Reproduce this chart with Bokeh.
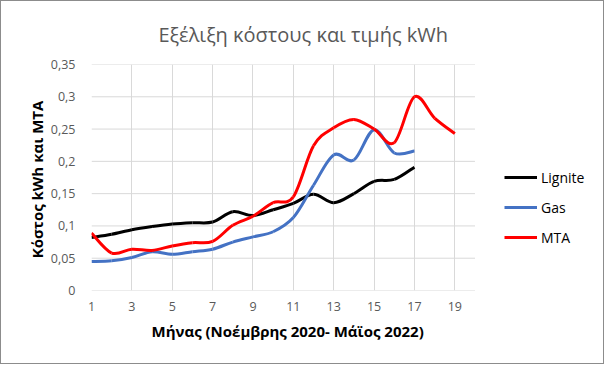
import numpy as np
from bokeh.plotting import figure
from bokeh.models import Range1d, FixedTicker, Legend, LegendItem, Title
from bokeh.embed import file_html
from bokeh.resources import INLINE

# ---- data ----
months = list(range(1, 20))
lignite = [0.082, 0.087, 0.094, 0.099, 0.103, 0.105, 0.106, 0.122, 0.116, 0.125,
           0.135, 0.149, 0.136, 0.150, 0.169, 0.172, 0.191]
gas = [0.045, 0.046, 0.051, 0.060, 0.056, 0.060, 0.064, 0.075, 0.083, 0.091,
       0.113, 0.163, 0.210, 0.202, 0.249, 0.213, 0.216]
mta = [0.089, 0.058, 0.064, 0.062, 0.069, 0.074, 0.076, 0.101, 0.115, 0.136,
       0.145, 0.224, 0.252, 0.265, 0.250, 0.229, 0.300, 0.267, 0.243]
series_names = ["Lignite", "Gas", "MTA"]
series_colors = ["#000000", "#4472C4", "#FF0000"]
x_ticks = [1, 3, 5, 7, 9, 11, 13, 15, 17, 19]
y_ticks = [0, 0.05, 0.1, 0.15, 0.2, 0.25, 0.3, 0.35]
y_tick_labels = ["0", "0,05", "0,1", "0,15", "0,2", "0,25", "0,3", "0,35"]
title_text = "Εξέλιξη κόστους και τιμής kWh"
x_label = "Μήνας (Νοέμβρης 2020- Μάϊος 2022)"
y_label = "Κόστος  kWh και MTA"
x_min, x_max = 1, 20

FONT = "Open Sans"

# layout geometry (pixels)
W, H = 604, 364
FRAME_L, AXIS_R, FRAME_R = 91, 473, 603
FRAME_T, FRAME_B = 64, 288
x_end = x_min + (x_max - x_min) * (FRAME_R - FRAME_L) / (AXIS_R - FRAME_L)

p = figure(width=W, height=H, output_backend="svg", toolbar_location=None,
           x_range=Range1d(x_min, x_end), y_range=Range1d(0, 0.35),
           min_border_left=FRAME_L - 1, min_border_right=0,
           min_border_top=FRAME_T - 1, min_border_bottom=H - 1 - FRAME_B)
p.outline_line_color = None
p.background_fill_color = "white"
p.border_fill_color = "white"
p.styles = {"border": "1px solid #8c8c8c", "box-sizing": "border-box"}

# axes
p.xaxis.ticker = FixedTicker(ticks=x_ticks)
p.yaxis.ticker = FixedTicker(ticks=y_ticks)
p.yaxis.major_label_overrides = {t: l for t, l in zip(y_ticks, y_tick_labels)}
for ax in (p.xaxis, p.yaxis):
    ax.major_tick_line_color = None
    ax.minor_tick_line_color = None
    ax.axis_line_color = None
    ax.major_label_text_font = FONT
    ax.major_label_text_font_size = "12.5px"
    ax.major_label_text_color = "#595959"
    ax.axis_label_text_font = FONT
    ax.axis_label_text_font_size = "15px"
    ax.axis_label_text_font_style = "bold"
    ax.axis_label_text_color = "#000000"
p.xaxis.major_label_standoff = 5
p.yaxis.major_label_standoff = 10
p.yaxis.axis_label = y_label
p.yaxis.axis_label_standoff = 1

p.xgrid.ticker = FixedTicker(ticks=x_ticks)
p.xgrid.grid_line_color = "#d9d9d9"
p.ygrid.grid_line_color = None
# horizontal gridlines limited to the plotted x extent
p.segment(x0=[x_min] * len(y_ticks), x1=[x_max] * len(y_ticks), y0=y_ticks,
          y1=y_ticks, line_color="#d9d9d9", line_width=1)


def smooth(xs, ys):
    P = np.column_stack([np.asarray(xs, float), np.asarray(ys, float)])
    n = len(P)
    out = {k: [] for k in ("x0", "y0", "x1", "y1", "cx0", "cy0", "cx1", "cy1")}
    for i in range(n - 1):
        pm = P[i - 1] if i > 0 else P[i]
        pp = P[i + 2] if i + 2 < n else P[i + 1]
        c1 = P[i] + (P[i + 1] - pm) / 6.0
        c2 = P[i + 1] - (pp - P[i]) / 6.0
        out["x0"].append(P[i][0]); out["y0"].append(P[i][1])
        out["x1"].append(P[i + 1][0]); out["y1"].append(P[i + 1][1])
        out["cx0"].append(c1[0]); out["cy0"].append(c1[1])
        out["cx1"].append(c2[0]); out["cy1"].append(c2[1])
    return out


items = []
for name, vals, col in zip(series_names, [lignite, gas, mta], series_colors):
    xs = months[:len(vals)]
    d = smooth(xs, vals)
    r = p.bezier(line_color=col, line_width=3, **d)
    items.append(LegendItem(label=name, renderers=[r], index=0))

legend = Legend(items=items, location=(504 - FRAME_L, FRAME_B - 245), padding=0,
                margin=0, spacing=10, glyph_width=33, glyph_height=20,
                label_standoff=4, label_text_font=FONT,
                label_text_font_size="14px", label_text_color="#000000",
                border_line_color=None, background_fill_alpha=0)
p.add_layout(legend, "center")

p.add_layout(Title(text=title_text, align="left", offset=158 - FRAME_L,
                   text_font=FONT, text_font_size="20px",
                   text_font_style="normal", text_color="#595959",
                   standoff=34), "above")

p.add_layout(Title(text=x_label, align="left", offset=152 - FRAME_L - 1,
                   text_font=FONT, text_font_size="15px",
                   text_font_style="bold", text_color="#000000",
                   standoff=10), "below")

open("out.html", "w").write(file_html(p, INLINE))
